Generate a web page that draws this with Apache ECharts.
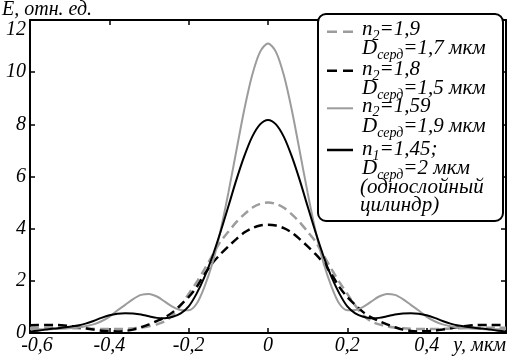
<!DOCTYPE html>
<html>
<head>
<meta charset="utf-8">
<script src="https://cdn.jsdelivr.net/npm/echarts@6/dist/echarts.min.js"></script>
<style>html,body{margin:0;padding:0;background:#fff}#c{width:509px;height:362px}</style>
</head>
<body>
<div id="c"></div>
<script>
const xs = [-0.6,-0.58,-0.56,-0.54,-0.52,-0.5,-0.48,-0.46,-0.44,-0.42,-0.4,-0.38,-0.36,-0.34,-0.32,-0.3,-0.28,-0.26,-0.24,-0.22,-0.2,-0.18,-0.16,-0.14,-0.12,-0.1,-0.08,-0.06,-0.04,-0.02,
  0,0.02,0.04,0.06,0.08,0.1,0.12,0.14,0.16,0.18,0.2,0.22,0.24,0.26,0.28,0.3,0.32,0.34,0.36,0.38,0.4,0.42,0.44,0.46,0.48,0.5,0.52,0.54,0.56,0.58,0.6];

const grayDashed = [0.2,0.2,0.2,0.2,0.2,0.19,0.18,0.17,0.16,0.15,0.15,0.15,0.16,0.18,0.21,0.26,0.33,0.45,0.68,1.05,1.5,1.95,2.45,2.98,3.5,3.88,4.25,4.55,4.8,4.95,
  5.0,4.95,4.8,4.55,4.25,3.88,3.5,2.98,2.45,1.95,1.5,1.05,0.68,0.45,0.33,0.26,0.21,0.18,0.16,0.15,0.15,0.15,0.16,0.17,0.18,0.19,0.2,0.2,0.2,0.2,0.2];
const blackDashed = [0.3,0.31,0.31,0.31,0.3,0.27,0.23,0.18,0.13,0.09,0.07,0.06,0.08,0.13,0.22,0.33,0.46,0.6,0.8,1.08,1.38,1.76,2.25,2.68,3.02,3.32,3.6,3.85,4.02,4.12,
  4.15,4.12,4.02,3.85,3.6,3.32,3.02,2.68,2.25,1.76,1.38,1.08,0.8,0.6,0.46,0.33,0.22,0.13,0.08,0.06,0.07,0.09,0.13,0.18,0.23,0.27,0.3,0.31,0.31,0.31,0.3];
const graySolid = [0.14,0.14,0.14,0.15,0.16,0.18,0.21,0.26,0.33,0.45,0.62,0.86,1.08,1.3,1.46,1.5,1.4,1.2,1.0,0.88,0.87,1.12,1.78,2.68,3.9,5.37,6.97,8.55,9.88,10.78,
  11.1,10.78,9.88,8.55,6.97,5.37,3.9,2.68,1.78,1.12,0.87,0.88,1.0,1.2,1.4,1.5,1.46,1.3,1.08,0.86,0.62,0.45,0.33,0.26,0.21,0.18,0.16,0.15,0.14,0.14,0.14];
const blackSolid = [0.05,0.09,0.13,0.17,0.2,0.24,0.29,0.36,0.46,0.58,0.68,0.74,0.76,0.75,0.71,0.64,0.58,0.57,0.62,0.75,1.02,1.51,2.15,2.94,3.86,4.85,5.86,6.77,7.52,8.0,
  8.17,8.0,7.52,6.77,5.86,4.85,3.86,2.94,2.15,1.51,1.02,0.75,0.62,0.57,0.58,0.64,0.71,0.75,0.76,0.74,0.68,0.58,0.46,0.36,0.29,0.24,0.2,0.17,0.13,0.09,0.05];

const xTickLabels = ['-0,6','-0,4','-0,2','0','0,2','0,4','y, мкм'];
const yTickLabels = ['0','2','4','6','8','10','12'];
const yAxisTitle = 'E, отн. ед.';

const legendRows = [
  '{i|n}{s|2}{i|=1,9}',
  '{i|D}{s|серд}{i|=1,7 мкм}',
  '{i|n}{s|2}{i|=1,8}',
  '{i|D}{s|серд}{i|=1,5 мкм}',
  '{i|n}{s|2}{i|=1,59}',
  '{i|D}{s|серд}{i|=1,9 мкм}',
  '{i|n}{s|1}{i|=1,45;}',
  '{i|D}{s|серд}{i|=2 мкм}',
  '{i|(однослойный}',
  '{i|цилиндр)}'
];

const GRAY = '#9c9c9c';
const pairs = arr => xs.map((x, i) => [x, arr[i]]);

function build(FONT) {
  const labelStyle = {fontFamily: FONT, fontStyle: 'italic', fontSize: 20, color: '#000'};
  const axLine = {show: true, onZero: false, lineStyle: {color: '#000', width: 2}};
  const axTick = {show: true, inside: true, length: 5, lineStyle: {color: '#000', width: 1.5}};
  const rowY = [29.5, 48.5, 69.5, 88.5, 106, 126.5, 149.5, 168.5, 187, 205];
  const rich = {
    i: {fontFamily: FONT, fontStyle: 'italic', fontSize: 21, lineHeight: 19, fill: '#000'},
    s: {fontFamily: FONT, fontStyle: 'italic', fontSize: 14, lineHeight: 8, padding: [13, 0, 0, 0], fill: '#000'}
  };
  const graphics = [
    {type: 'rect', z: 100, shape: {x: 318, y: 14, width: 185, height: 207, r: 8},
     style: {fill: '#fff', stroke: '#000', lineWidth: 2}},
    {type: 'text', z: 101, x: 2, y: 10, style: {text: yAxisTitle, fontFamily: FONT, fontStyle: 'italic', fontSize: 20, fill: '#000', verticalAlign: 'middle', align: 'left'}}
  ];
  const samples = [
    {y: 31.7, color: GRAY, w: 2.5, dash: [10, 6]},
    {y: 70.7, color: '#000', w: 2.5, dash: [10, 6]},
    {y: 108.3, color: GRAY, w: 2, dash: null},
    {y: 150, color: '#000', w: 2.5, dash: null}
  ];
  samples.forEach(s => graphics.push({type: 'line', z: 101, shape: {x1: 327, y1: s.y, x2: 353, y2: s.y},
    style: {stroke: s.color, lineWidth: s.w, lineDash: s.dash || null}}));
  legendRows.forEach((t, k) => graphics.push({type: 'text', z: 101, x: k >= 8 ? 360 : 362, y: rowY[k],
    style: {text: t, rich: rich, verticalAlign: 'middle', align: 'left', fontFamily: FONT, fontSize: 21, fontStyle: 'italic', fill: '#000'}}));

  return {
    animation: false,
    textStyle: {fontFamily: FONT},
    grid: {left: 30, right: 3, top: 20, bottom: 29, containLabel: false},
    xAxis: [
      {type: 'value', min: -0.6, max: 0.6, interval: 0.2, position: 'bottom',
       axisLine: axLine, axisTick: axTick, splitLine: {show: false},
       axisLabel: Object.assign({}, labelStyle, {margin: 3, alignMaxLabel: 'right',
         rich: {m: Object.assign({}, labelStyle, {padding: [0, 0, 0, 14]})},
         formatter: (v, i) => i === 0 ? '{m|' + xTickLabels[0] + '}' : xTickLabels[i]})},
      {type: 'value', min: -0.6, max: 0.6, interval: 0.2, position: 'top',
       axisLine: axLine, axisTick: axTick, splitLine: {show: false}, axisLabel: {show: false}}
    ],
    yAxis: [
      {type: 'value', min: 0, max: 12, interval: 2, position: 'left',
       axisLine: axLine, axisTick: axTick, splitLine: {show: false},
       axisLabel: Object.assign({}, labelStyle, {margin: 4, verticalAlignMaxLabel: 'top',
         formatter: (v, i) => yTickLabels[i]})},
      {type: 'value', min: 0, max: 12, interval: 2, position: 'right',
       axisLine: axLine, axisTick: axTick, splitLine: {show: false}, axisLabel: {show: false}}
    ],
    series: [
      {type: 'line', data: pairs(grayDashed), showSymbol: false, smooth: 0.3,
       lineStyle: {color: GRAY, width: 2.5, type: [9, 5]}},
      {type: 'line', data: pairs(blackDashed), showSymbol: false, smooth: 0.3,
       lineStyle: {color: '#000', width: 2.5, type: [9, 5]}},
      {type: 'line', data: pairs(graySolid), showSymbol: false, smooth: 0.3,
       lineStyle: {color: GRAY, width: 2}},
      {type: 'line', data: pairs(blackSolid), showSymbol: false, smooth: 0.3,
       lineStyle: {color: '#000', width: 2}}
    ],
    graphic: graphics
  };
}

const chart = echarts.init(document.getElementById('c'));
chart.setOption(build('Liberation Serif'));
// redraw once more later with an equivalent font name (fresh text metrics) in case fonts were not ready
setTimeout(() => { chart.setOption(build("'Liberation Serif', serif"), true); }, 500);
</script>
</body>
</html>
